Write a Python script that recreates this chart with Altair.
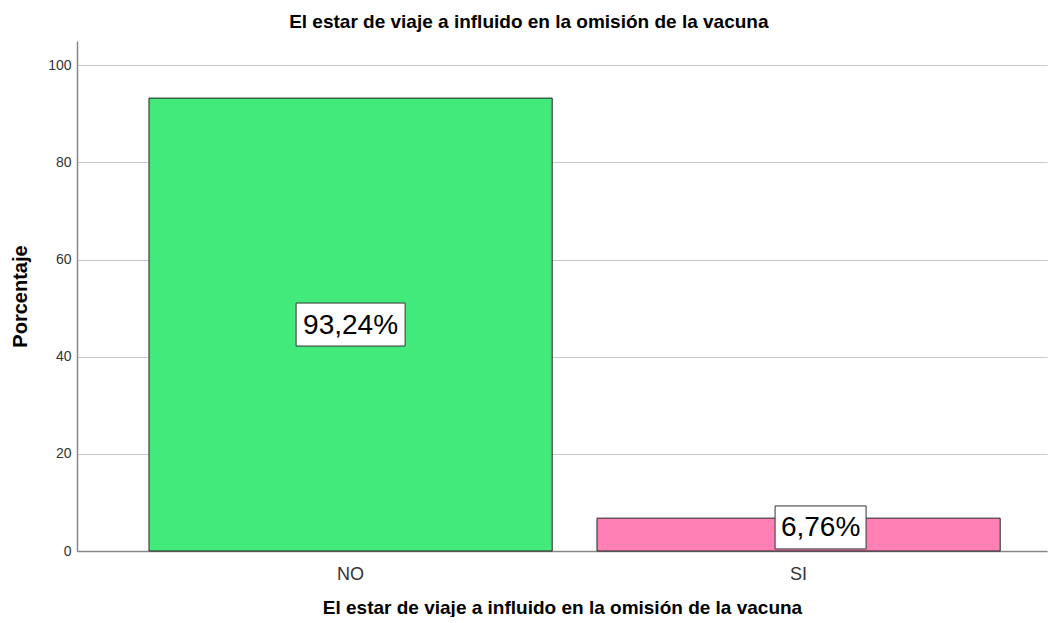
import altair as alt
import pandas as pd

categories = ["NO", "SI"]
percentages = [93.24, 6.76]
label_texts = ["93,24%", "6,76%"]
label_y = [46.62, 4.85]
bar_colors = ["#42E97B", "#FF80B5"]
box_widths = [109, 91]
box_dx = [0, 22]

title_text = "El estar de viaje a influido en la omisión de la vacuna"

def box_path(w, h, dx):
    s = 100.0
    l, r = (dx - w / 2) / s, (dx + w / 2) / s
    t, b = -h / 2 / s, h / 2 / s
    return f"M{l},{t}H{r}V{b}H{l}Z"

df = pd.DataFrame({
    "cat": categories,
    "pct": percentages,
    "label": label_texts,
    "ly": label_y,
    "color": bar_colors,
    "path": [box_path(w, 43, d) for w, d in zip(box_widths, box_dx)],
})

FONT = "Liberation Sans"

x_enc = alt.X(
    "cat:N",
    sort=categories,
    scale=alt.Scale(paddingInner=0.1, paddingOuter=0.1326, align=0.606),
    axis=alt.Axis(
        title=title_text, labelAngle=0, ticks=False, tickSize=0,
        labelPadding=14, labelFontSize=18, labelColor="#333333",
        labelFont=FONT, titleFont=FONT, titleFontSize=19, titleFontWeight="bold",
        titleColor="#000000", titlePadding=15, domainColor="#888888",
        domainWidth=1.5,
    ),
)

y_scale = alt.Scale(domain=[0, 105], nice=False)

bars = alt.Chart(df).mark_bar(stroke="#222222", strokeWidth=1).encode(
    x=x_enc,
    y=alt.Y(
        "pct:Q", scale=y_scale,
        axis=alt.Axis(
            title="Porcentaje", values=[0, 20, 40, 60, 80, 100], ticks=False,
            tickSize=0, labelPadding=6, labelFontSize=14, labelColor="#333333",
            labelFont=FONT, titleFont=FONT, titleFontSize=20,
            titleFontWeight="bold", titleColor="#000000", titlePadding=17,
            grid=True, gridColor="#c8c8c8", gridWidth=1,
            domainColor="#888888", domainWidth=1.5,
        ),
    ),
    color=alt.Color("color:N", scale=None),
)

boxes = alt.Chart(df).mark_point(
    filled=True, fill="white", stroke="#333333", strokeWidth=1, opacity=1, size=40000
).encode(
    x=alt.X("cat:N", sort=categories),
    y=alt.Y("ly:Q", scale=y_scale),
    shape=alt.Shape("path:N", scale=None),
)

texts = []
for i, c in enumerate(categories):
    texts.append(
        alt.Chart(df).transform_filter(alt.datum.cat == c).mark_text(
            fontSize=28, font=FONT, color="#000000", dx=box_dx[i], dy=1
        ).encode(
            x=alt.X("cat:N", sort=categories),
            y=alt.Y("ly:Q", scale=y_scale),
            text="label:N",
        )
    )

chart = alt.layer(bars, boxes, *texts).properties(
    width=970,
    height=510,
    background="white",
    padding={"left": 2, "top": 5, "right": 2, "bottom": 0},
    title=alt.TitleParams(
        title_text, fontSize=19, font=FONT, fontWeight="bold", color="#000000",
        anchor="middle", frame="bounds", offset=9,
    ),
).configure_view(strokeWidth=0, stroke="transparent")

chart.save("out.html", embed_options={"renderer": "svg", "actions": False})
